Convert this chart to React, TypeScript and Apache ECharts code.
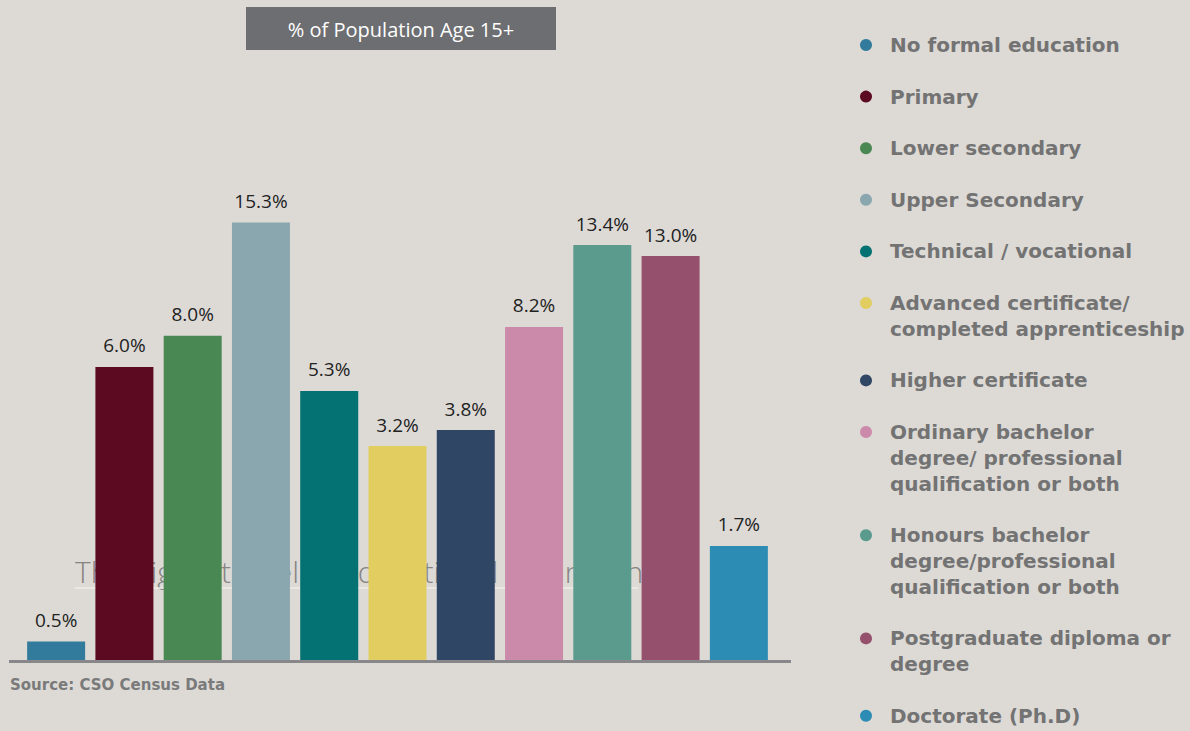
import React, { useEffect, useRef } from "react";
import * as echarts from "echarts";

// Categories (legend / bar order)
const categories: string[] = [
  "No formal education",
  "Primary",
  "Lower secondary",
  "Upper Secondary",
  "Technical / vocational",
  "Advanced certificate/\ncompleted apprenticeship",
  "Higher certificate",
  "Ordinary bachelor\ndegree/ professional\nqualification or both",
  "Honours bachelor\ndegree/professional\nqualification or both",
  "Postgraduate diploma or\ndegree",
  "Doctorate (Ph.D)",
];

// Share of population age 15+ (%), as printed on the bars
const shares: number[] = [0.5, 6.0, 8.0, 15.3, 5.3, 3.2, 3.8, 8.2, 13.4, 13.0, 1.7];

// Bar lengths as drawn in the infographic (visual units, not proportional to the shares)
const barLengths: number[] = [4.0, 63.7, 70.5, 95.1, 58.5, 46.5, 50.0, 72.4, 90.2, 87.8, 24.8];

const colors: string[] = [
  "#337b9c",
  "#5c0a21",
  "#4a8853",
  "#8aa7af",
  "#047172",
  "#e1cd60",
  "#304665",
  "#cb8aaa",
  "#5a9b8e",
  "#94506c",
  "#2d8cb3",
];

const titleText = "% of Population Age 15+";
const sourceText = "Source: CSO Census Data";
const hiddenText = "The highest level of educational attainment in";

export default function App() {
  const ref = useRef<HTMLDivElement>(null);

  useEffect(() => {
    document.body.style.margin = "0";
    const chart = echarts.init(ref.current!, null, { renderer: "svg" });

    // Legend built as graphic elements (dot aligned with first line)
    const legendEls: any[] = [];
    const lineH = 25.8;
    let y = 45;
    categories.forEach((name, i) => {
      const lines = name.split("\n").length;
      legendEls.push({
        type: "circle",
        shape: { cx: 866, cy: y, r: 6 },
        style: { fill: colors[i] },
      });
      legendEls.push({
        type: "text",
        x: 890,
        y: y + ((lines - 1) * lineH) / 2,
        style: {
          text: name,
          fill: "#737373",
          font: "bold 20px 'DejaVu Sans'",
          lineHeight: lines > 1 ? lineH : 22,
          verticalAlign: "middle",
          align: "left",
        },
      });
      y += lines * lineH + lineH;
    });

    chart.setOption({
      animation: false,
      backgroundColor: "#dddad6",
      grid: { left: 22, width: 751, top: 200, bottom: 71 },
      xAxis: {
        type: "category",
        data: categories,
        axisLine: { show: false },
        axisTick: { show: false },
        axisLabel: { show: false },
      },
      yAxis: {
        type: "value",
        min: 0,
        max: 100,
        show: false,
        splitLine: { show: false },
      },
      series: [
        {
          type: "bar",
          z: 5,
          barWidth: 58,
          data: barLengths.map((v, i) => ({
            value: v,
            itemStyle: { color: colors[i] },
            label: { formatter: shares[i].toFixed(1) + "%" },
          })),
          label: {
            show: true,
            position: "top",
            distance: 12,
            color: "#222222",
            fontFamily: "Open Sans",
            fontSize: 19,
          },
        },
      ],
      graphic: [
        {
          type: "text",
          z: 0,
          x: 75,
          y: 571,
          style: {
            text: hiddenText,
            fill: "#868482",
            font: "300 30px 'Open Sans'",
            verticalAlign: "middle",
          },
        },
        {
          type: "line",
          z: 0,
          shape: { x1: 75, y1: 588, x2: 638, y2: 588 },
          style: { stroke: "#efede9", lineWidth: 1.5 },
        },
        {
          type: "line",
          z: 10,
          shape: { x1: 9, y1: 661.5, x2: 791, y2: 661.5 },
          style: { stroke: "#88878a", lineWidth: 3 },
        },
        {
          type: "rect",
          shape: { x: 246, y: 7, width: 310, height: 43 },
          style: { fill: "#6d6e71" },
        },
        {
          type: "text",
          x: 401,
          y: 29,
          style: {
            text: titleText,
            fill: "#ffffff",
            font: "20px 'Open Sans'",
            align: "center",
            verticalAlign: "middle",
          },
        },
        {
          type: "text",
          x: 10,
          y: 685,
          style: {
            text: sourceText,
            fill: "#7a7a7a",
            font: "bold 15px 'DejaVu Sans'",
            verticalAlign: "middle",
          },
        },
        ...legendEls,
      ],
    });

    return () => chart.dispose();
  }, []);

  return <div ref={ref} style={{ width: 1190, height: 731 }} />;
}
